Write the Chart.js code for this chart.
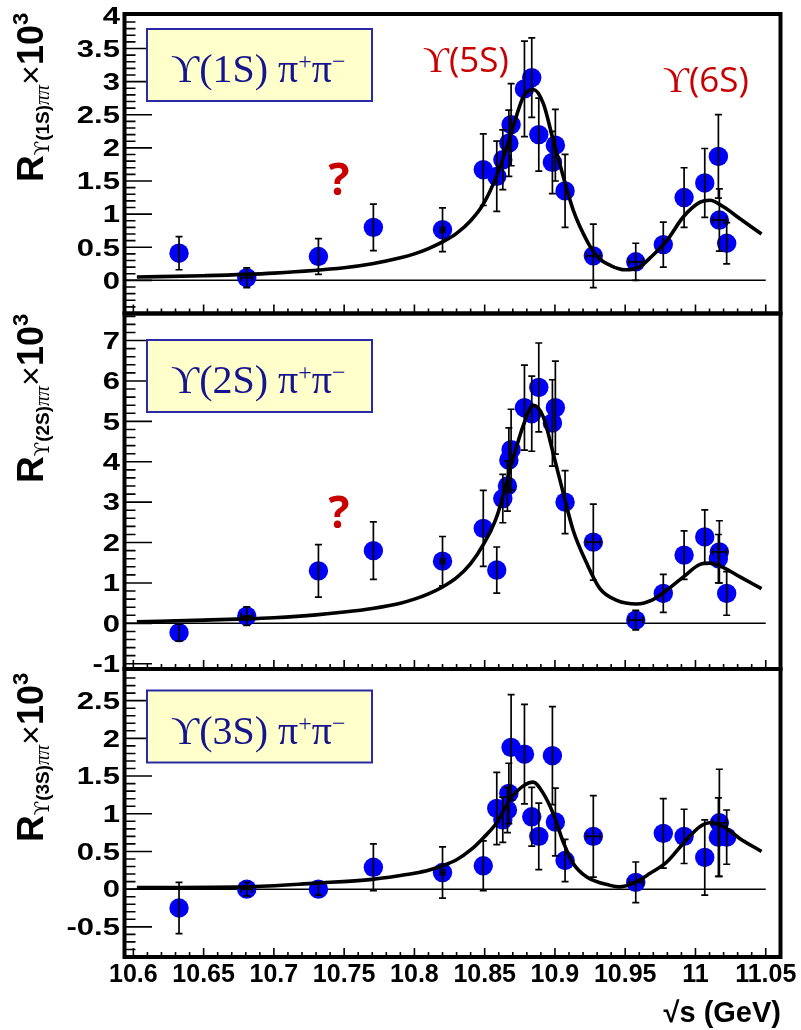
<!DOCTYPE html>
<html>
<head>
<meta charset="utf-8">
<title>R(Upsilon(nS) pi pi) energy scan</title>
<script src="https://cdn.jsdelivr.net/npm/chart.js@4.4.1/dist/chart.umd.min.js"></script>
<style>
  body { margin: 0; background: #fff; }
  #wrap { position: relative; width: 801px; height: 1030px; }
  #wrap canvas { position: absolute; left: 0; top: 0; }
</style>
</head>
<body>
<div id="wrap">
  <canvas id="c1" width="801" height="1030"></canvas>
  <canvas id="c2" width="801" height="1030"></canvas>
  <canvas id="c3" width="801" height="1030"></canvas>
</div>
<script>
// =============================================================================
// Data
// =============================================================================

// sqrt(s) tick labels, GeV
const xTickLabels = ["10.6", "10.65", "10.7", "10.75", "10.8", "10.85", "10.9", "10.95", "11", "11.05"];

// y tick labels for each panel
const yLabels1S = ["0", "0.5", "1", "1.5", "2", "2.5", "3", "3.5", "4"];
const yLabels2S = ["-1", "0", "1", "2", "3", "4", "5", "6", "7"];
const yLabels3S = ["-0.5", "0", "0.5", "1", "1.5", "2", "2.5"];

// Y(1S) pi+ pi-
const energy1S = [10.6325, 10.6807, 10.7317, 10.7708, 10.8200, 10.8490, 10.8586, 10.8629, 10.8672, 10.8688,
  10.8783, 10.8835, 10.8885, 10.8982, 10.9003, 10.9072, 10.9273, 10.9575, 10.9771, 10.9919, 11.0066, 11.0163, 11.0170, 11.0222];
const ratio1S = [0.41, 0.04, 0.36, 0.80, 0.765, 1.67, 1.57, 1.82, 2.07, 2.35,
  2.89, 3.06, 2.20, 1.78, 2.04, 1.35, 0.37, 0.28, 0.54, 1.25, 1.47, 1.87, 0.91, 0.56];
const err1S = [0.25, 0.15, 0.27, 0.35, 0.33, 0.54, 0.53, 0.45, 0.50, 0.62,
  0.72, 0.60, 0.55, 0.47, 0.54, 0.55, 0.48, 0.28, 0.34, 0.45, 0.52, 0.63, 0.47, 0.31];
const xErr1S = [0, 0.004, 0, 0, 0.0015, 0, 0, 0, 0, 0,
  0, 0, 0, 0, 0, 0, 0.005, 0.005, 0, 0, 0, 0, 0.005, 0];
const fitX1S = [10.6025, 10.65, 10.7, 10.75, 10.77, 10.79, 10.8, 10.81, 10.82, 10.83, 10.84, 10.849, 10.8586, 10.868,
  10.8775, 10.8846, 10.8917, 10.8988, 10.906, 10.913, 10.9227, 10.93, 10.94, 10.95, 10.96, 10.9677, 10.9796,
  10.9914, 11.0033, 11.0104, 11.0199, 11.0317, 11.047];
const fitY1S = [0.05, 0.07, 0.11, 0.19, 0.25, 0.34, 0.40, 0.48, 0.58, 0.71, 0.90, 1.15, 1.58, 2.16,
  2.77, 2.88, 2.67, 2.11, 1.56, 1.06, 0.60, 0.36, 0.22, 0.16, 0.20, 0.34, 0.60,
  0.96, 1.18, 1.21, 1.11, 0.93, 0.70];

// Y(2S) pi+ pi-
const energy2S = [10.6325, 10.6807, 10.7317, 10.7708, 10.8200, 10.8490, 10.8586, 10.8629, 10.8662, 10.8672, 10.8688,
  10.8783, 10.8835, 10.8885, 10.8982, 10.9003, 10.9072, 10.9273, 10.9575, 10.9771, 10.9919, 11.0066, 11.0163, 11.0170, 11.0222];
const ratio2S = [-0.23, 0.18, 1.30, 1.80, 1.54, 2.35, 1.32, 3.09, 3.40, 4.04, 4.30,
  5.34, 5.19, 5.84, 4.96, 5.34, 3.00, 2.01, 0.08, 0.74, 1.69, 2.14, 1.60, 1.77, 0.74];
const err2S = [0.21, 0.23, 0.65, 0.71, 0.61, 0.94, 0.57, 0.60, 0.62, 0.80, 1.00,
  1.05, 0.93, 1.10, 1.07, 1.15, 0.78, 0.94, 0.24, 0.47, 0.60, 0.67, 0.60, 0.77, 0.54];
const xErr2S = [0, 0.004, 0, 0, 0.0015, 0, 0, 0, 0, 0, 0,
  0, 0, 0, 0, 0, 0, 0.005, 0.005, 0, 0, 0, 0, 0.005, 0];
const fitX2S = [10.6025, 10.65, 10.68, 10.7, 10.73, 10.75, 10.77, 10.79, 10.8, 10.81, 10.82, 10.83, 10.84, 10.849,
  10.8586, 10.868, 10.8775, 10.8846, 10.8917, 10.8988, 10.906, 10.913, 10.9227, 10.932, 10.944, 10.958,
  10.9698, 10.9796, 10.9914, 11.0033, 11.0104, 11.0199, 11.0317, 11.047];
const fitY2S = [0.04, 0.08, 0.11, 0.14, 0.21, 0.28, 0.37, 0.50, 0.60, 0.73, 0.90, 1.13, 1.48, 1.95,
  2.64, 3.80, 4.90, 5.40, 5.11, 4.20, 3.21, 2.30, 1.48, 0.86, 0.57, 0.48,
  0.59, 0.82, 1.15, 1.46, 1.49, 1.38, 1.15, 0.86];

// Y(3S) pi+ pi-
const energy3S = energy2S;
const ratio3S = [-0.25, 0.00, 0.00, 0.29, 0.22, 0.31, 1.07, 0.92, 1.05, 1.27, 1.88,
  1.79, 0.96, 0.70, 1.77, 0.89, 0.38, 0.70, 0.09, 0.74, 0.70, 0.42, 0.69, 0.88, 0.69];
const err3S = [0.34, 0.09, 0.08, 0.31, 0.34, 0.33, 0.48, 0.30, 0.30, 0.40, 0.70,
  0.66, 0.39, 0.44, 0.65, 0.45, 0.28, 0.54, 0.27, 0.46, 0.36, 0.50, 0.52, 0.71, 0.36];
const xErr3S = xErr2S;
const fitX3S = [10.6025, 10.68, 10.73, 10.77, 10.79, 10.8, 10.81, 10.82, 10.83, 10.84, 10.849, 10.8586, 10.868,
  10.8775, 10.8846, 10.8917, 10.8988, 10.906, 10.913, 10.9227, 10.9392, 10.946, 10.958, 10.9677, 10.9796,
  10.9914, 11.0033, 11.0104, 11.0199, 11.0317, 11.047];
const fitY3S = [0.02, 0.03, 0.08, 0.13, 0.18, 0.21, 0.25, 0.31, 0.39, 0.52, 0.68, 0.88, 1.19,
  1.37, 1.42, 1.27, 1.00, 0.62, 0.34, 0.16, 0.05, 0.03, 0.10, 0.21, 0.36,
  0.61, 0.83, 0.88, 0.83, 0.67, 0.50];

// =============================================================================
// Layout / style
// =============================================================================

const X_MIN = 10.5937;
const X_MAX = 11.0605;
const FRAME_LEFT = 124.5;
const FRAME_RIGHT = 780.5;
const MARKER_COLOR = "#0000f5";
const RED = "#c80000";
const NAVY = "#16168c";

const panels = [
  { canvas: "c1", tag: "1S", top: 14, bottom: 313.5, yMin: -0.5, yMax: 4.02, minor: 0.1, major: 0.5,
    yLabels: yLabels1S, xs: energy1S, ys: ratio1S, errs: err1S, xErrs: xErr1S, fitX: fitX1S, fitY: fitY1S,
    titleStart: 182, boxTop: 29, question: 195, peaks: true, xAxis: false },
  { canvas: "c2", tag: "2S", top: 313.5, bottom: 669, yMin: -1.13, yMax: 7.67, minor: 0.2, major: 1,
    yLabels: yLabels2S, xs: energy2S, ys: ratio2S, errs: err2S, xErrs: xErr2S, fitX: fitX2S, fitY: fitY2S,
    titleStart: 483, boxTop: 340, question: 528, peaks: false, xAxis: false },
  { canvas: "c3", tag: "3S", top: 669, bottom: 957, yMin: -0.9, yMax: 2.92, minor: 0.1, major: 0.5,
    yLabels: yLabels3S, xs: energy3S, ys: ratio3S, errs: err3S, xErrs: xErr3S, fitX: fitX3S, fitY: fitY3S,
    titleStart: 842, boxTop: 690.5, question: null, peaks: false, xAxis: true },
];

// =============================================================================
// Drawing helpers
// =============================================================================

/** Draw a run of text pieces left to right: [text, font, dy] */
function drawRun(ctx, x, y, pieces) {
  let cx = x;
  for (const [txt, font, dy] of pieces) {
    ctx.font = font;
    ctx.fillText(txt, cx, y + dy);
    cx += ctx.measureText(txt).width;
  }
  return cx;
}

function drawYTitle(ctx, baseX, startY, tag) {
  ctx.save();
  ctx.translate(baseX, startY);
  ctx.rotate(-Math.PI / 2);
  ctx.fillStyle = "#000";
  ctx.textAlign = "left";
  ctx.textBaseline = "alphabetic";
  drawRun(ctx, 0, 0, [
    ["R", 'bold 37px "Liberation Sans"', 0],
    ["\u03D2", '21px "DejaVu Serif"', 6],
    ["(" + tag + ")", 'bold 19px "Liberation Sans"', 6],
    ["\u03C0\u03C0", 'italic 20px "Liberation Serif"', 6],
    ["\u00D7", '34px "Liberation Sans"', -1],
    ["10", 'bold 36px "Liberation Sans"', 0],
    ["3", 'bold 22px "Liberation Sans"', -15],
  ]);
  ctx.restore();
}

function drawTagBox(ctx, top, tag) {
  ctx.save();
  ctx.fillStyle = "#ffffcc";
  ctx.fillRect(147, top, 225, 72);
  ctx.strokeStyle = "#2a2aa6";
  ctx.lineWidth = 2;
  ctx.strokeRect(147, top, 225, 72);
  ctx.fillStyle = NAVY;
  ctx.textAlign = "left";
  ctx.textBaseline = "alphabetic";
  const serif = '"Liberation Serif", "DejaVu Serif"';
  drawRun(ctx, 171, top + 53, [
    ["\u03D2", "39px " + serif, 0],
    ["(" + tag + ") \u03C0", "40px " + serif, 0],
    ["+", "24px " + serif, -13],
    ["\u03C0", "40px " + serif, 0],
    ["\u2212", "24px " + serif, -13],
  ]);
  ctx.restore();
}

const scanPlugin = {
  id: "scanDeco",
  beforeDatasetsDraw(chart, args, p) {
    const { ctx, scales: { x, y } } = chart;
    const y0 = y.getPixelForValue(0);
    ctx.save();
    ctx.strokeStyle = "#000";
    ctx.lineWidth = 1.5;
    ctx.beginPath();
    ctx.moveTo(FRAME_LEFT, y0);
    ctx.lineTo(x.getPixelForValue(11.05), y0);
    ctx.stroke();
    ctx.restore();
  },
  afterDatasetsDraw(chart, args, p) {
    const { ctx, chartArea: a, scales: { x, y } } = chart;
    ctx.save();

    // error bars
    ctx.beginPath();
    ctx.rect(a.left, a.top, a.width, a.height);
    ctx.clip();
    ctx.strokeStyle = "#000";
    ctx.lineWidth = 1.7;
    const cap = 3.5;
    p.xs.forEach((xv, i) => {
      const px = x.getPixelForValue(xv);
      const py = y.getPixelForValue(p.ys[i]);
      const top = y.getPixelForValue(p.ys[i] + p.errs[i]);
      const bot = y.getPixelForValue(p.ys[i] - p.errs[i]);
      ctx.beginPath();
      ctx.moveTo(px, top); ctx.lineTo(px, bot);
      ctx.moveTo(px - cap, top); ctx.lineTo(px + cap, top);
      ctx.moveTo(px - cap, bot); ctx.lineTo(px + cap, bot);
      if (p.xErrs[i] > 0) {
        const l = x.getPixelForValue(xv - p.xErrs[i]);
        const r = x.getPixelForValue(xv + p.xErrs[i]);
        ctx.moveTo(l, py); ctx.lineTo(r, py);
        ctx.moveTo(l, py - cap); ctx.lineTo(l, py + cap);
        ctx.moveTo(r, py - cap); ctx.lineTo(r, py + cap);
      }
      ctx.stroke();
    });
    ctx.restore();

    ctx.save();
    ctx.strokeStyle = "#000";
    ctx.fillStyle = "#000";

    // y ticks (inside, left)
    ctx.lineWidth = 1.6;
    ctx.beginPath();
    const n0 = Math.ceil(p.yMin / p.minor - 1e-6);
    const n1 = Math.floor(p.yMax / p.minor + 1e-6);
    for (let n = n0; n <= n1; n++) {
      const v = n * p.minor;
      const py = y.getPixelForValue(v);
      if (py <= a.top + 2 || py >= a.bottom - 2) continue;
      const isMajor = Math.abs(v / p.major - Math.round(v / p.major)) < 1e-6;
      ctx.moveTo(a.left, py);
      ctx.lineTo(a.left + (isMajor ? 27.5 : 11), py);
    }
    // x ticks (inside, bottom)
    for (let n = Math.ceil(X_MIN * 100 - 1e-6); n <= Math.floor(X_MAX * 100 + 1e-6); n++) {
      const px = x.getPixelForValue(n / 100);
      if (px >= a.right - 2) continue;
      ctx.moveTo(px, a.bottom);
      ctx.lineTo(px, a.bottom - (n % 5 === 0 ? 9 : 5));
    }
    ctx.stroke();

    // frame
    ctx.lineWidth = 4;
    ctx.strokeRect(a.left, a.top, a.width, a.height);

    // y tick labels (wide bold)
    ctx.font = 'bold 23px "Liberation Sans"';
    ctx.textAlign = "right";
    ctx.textBaseline = "alphabetic";
    p.yLabels.forEach(lbl => {
      const py = y.getPixelForValue(parseFloat(lbl));
      ctx.save();
      ctx.translate(120, py + 8.3);
      ctx.scale(1.35, 1);
      ctx.fillText(lbl, 0, 0);
      ctx.restore();
    });

    // x tick labels + axis title
    if (p.xAxis) {
      ctx.font = 'bold 25px "Liberation Sans"';
      ctx.textAlign = "center";
      xTickLabels.forEach(lbl => {
        ctx.fillText(lbl, x.getPixelForValue(parseFloat(lbl)), 982);
      });
      ctx.font = 'bold 29px "Liberation Sans"';
      ctx.textAlign = "right";
      ctx.fillText("\u221As (GeV)", 781, 1022);
    }

    drawYTitle(ctx, 43, p.titleStart, p.tag);
    drawTagBox(ctx, p.boxTop, p.tag);

    ctx.fillStyle = RED;
    ctx.textAlign = "left";
    if (p.question !== null) {
      ctx.font = 'bold 44px "Open Sans"';
      ctx.textAlign = "center";
      ctx.fillText("?", 339, p.question);
      ctx.textAlign = "left";
    }
    if (p.peaks) {
      drawRun(ctx, 423, 72, [["\u03D2", '36px "Liberation Serif", "DejaVu Serif"', 0], ["(5S)", '35px "Open Sans"', 0]]);
      drawRun(ctx, 663, 92, [["\u03D2", '36px "Liberation Serif", "DejaVu Serif"', 0], ["(6S)", '35px "Open Sans"', 0]]);
    }
    ctx.restore();
  },
};

// =============================================================================
// Charts
// =============================================================================

panels.forEach(p => {
  const points = p.xs.map((xv, i) => ({ x: xv, y: p.ys[i] }));
  const fit = p.fitX.map((xv, i) => ({ x: xv, y: p.fitY[i] }));
  new Chart(document.getElementById(p.canvas), {
    type: "line",
    data: {
      datasets: [
        {
          label: "fit",
          data: fit,
          borderColor: "#000",
          borderWidth: 3.6,
          pointRadius: 0,
          cubicInterpolationMode: "monotone",
          fill: false,
          order: 0,
        },
        {
          type: "scatter",
          label: "data",
          data: points,
          pointRadius: 9.7,
          pointBackgroundColor: MARKER_COLOR,
          pointBorderWidth: 0,
          order: 1,
        },
      ],
    },
    options: {
      responsive: false,
      animation: false,
      events: [],
      layout: {
        padding: { left: FRAME_LEFT, right: 801 - FRAME_RIGHT, top: p.top, bottom: 1030 - p.bottom },
      },
      plugins: {
        legend: { display: false },
        tooltip: { enabled: false },
        scanDeco: p,
      },
      scales: {
        x: { type: "linear", display: false, min: X_MIN, max: X_MAX, bounds: "data" },
        y: { type: "linear", display: false, min: p.yMin, max: p.yMax, bounds: "data" },
      },
    },
    plugins: [scanPlugin],
  });
});
</script>
</body>
</html>
